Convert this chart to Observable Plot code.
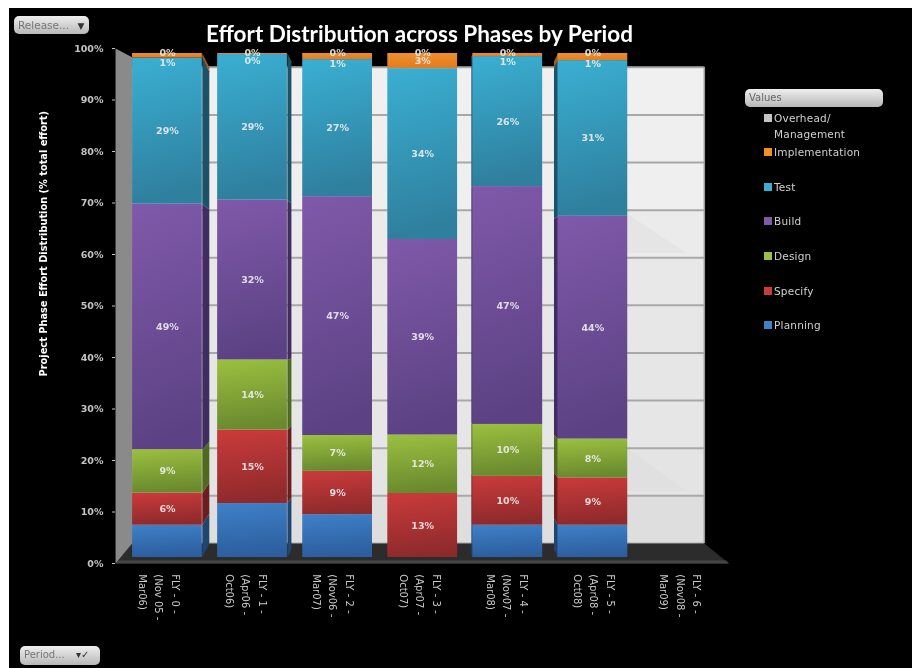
<!DOCTYPE html>
<html><head><meta charset="utf-8">
<script src="https://cdn.jsdelivr.net/npm/d3@7"></script>
<script src="https://cdn.jsdelivr.net/npm/@observablehq/plot@0.6"></script>
<style>
html,body{margin:0;padding:0;background:#fff;overflow:hidden}
#page{position:relative;width:912px;height:668px;filter:blur(.7px);font-family:"DejaVu Sans",sans-serif}
#black{position:absolute;left:9px;top:8px;right:0;bottom:0;background:#000}
#chart{position:absolute;left:0;top:0}
#chart svg{background:transparent;display:block}
#title{position:absolute;left:206px;top:25px;width:426px;height:18px;text-align:center;white-space:nowrap;color:#fff;font:700 22.5px/18px Lato,sans-serif}
.btn{position:absolute;box-sizing:border-box;border-radius:5px;background:linear-gradient(#eee,#b8b8b8);color:#777;font-size:10px;line-height:18px;padding-left:4px;white-space:nowrap}
#legend div.item{position:absolute;left:774px;color:#d0d0d0;font-size:10.5px;line-height:16px;white-space:pre-line;letter-spacing:.2px}
#legend span{position:absolute;left:-10px;top:4px;width:8px;height:8px}
</style></head><body>
<div id="page"><div id="black"></div><div id="chart"></div>
<div id="title">Effort Distribution across Phases by Period</div>
<div class="btn" style="left:14px;top:16px;width:75px;height:18px;font-size:10.5px">Release... <span style="color:#333;margin-left:5px;font-size:9px">▼</span></div>
<div class="btn" style="left:20px;top:646px;width:80px;height:19px">Period... <span style="color:#333;margin-left:8px">▾✓</span></div>
<div class="btn" style="left:745px;top:89px;width:138px;height:18px;color:#666">Values</div>
<div id="legend"></div></div>
<script>
const periods = ["FLY - 0 -\n(Nov 05 -\nMar06)","FLY - 1 -\n(Apr06 -\nOct06)","FLY - 2 -\n(Nov06 -\nMar07)","FLY - 3 -\n(Apr07 -\nOct07)","FLY - 4 -\n(Nov07 -\nMar08)","FLY - 5 -\n(Apr08 -\nOct08)","FLY - 6 -\n(Nov08 -\nMar09)"];
const phases = ["Planning","Specify","Design","Build","Test","Implementation","Overhead/\nManagement"];
const planning = [6.4,10.7,8.5,0,6.4,6.4];
const specify = [6.4,14.6,8.6,12.7,9.7,9.4];
const design = [8.6,13.9,7.1,11.6,10.3,7.7];
const build = [48.7,31.7,47.4,38.8,47.2,44.2];
const test = [29.0,28.9,27.2,33.9,25.8,30.9];
const implementation = [0.9,0.2,1.2,3.0,0.6,1.4];
const overhead = [0,0,0,0,0,0];
const series = [planning,specify,design,build,test,implementation,overhead];
const axisTicks = [0,10,20,30,40,50,60,70,80,90,100];
const gridTicks = [0,10,20,30,40,50,60,70,80,90,100];
const wallTones = ["#dedede","#e4e4e4","#e6e6e6","#e6e6e6","#e7e7e7","#e8e8e8","#ebebeb","#efefef","#efefef","#f0f0f0"];
const colorsTop = ["#3f80c8","#cb3b3b","#9bc040","#8059aa","#3aafd2","#f0902c","#bbbbbb"];
const colorsBottom = ["#2c5f9e","#8f2a2c","#6a8a2e","#5c4284","#2f7f9e","#e27c22","#999999"];
const sideColors = ["#1f4570","#6b1e20","#4f6a20","#3f2c60","#1c5268","#a85a14","#777777"];
const swatches = ["#3f80c8","#cb3b3b","#9bc040","#8059aa","#3aafd2","#f0902c","#c4c4c4"];
const legendTops = [317,283,248,213,179,144,110];

// three planes of the 3-D box, expressed in axis units
const front = v => 1.165 + v*0.9786;   // face of the bars
const back = v => 3.9 + v*0.9245;      // back wall
const depth = [0.082,0.047,0,0,-0.018,-0.047];
const halfBar = 0.41;

const rows = [], sides = [];
periods.slice(0,6).forEach((p,i)=>{
  let cum = 0;
  series.forEach((s,k)=>{
    const v = s[i], lo = cum, hi = cum+v; cum = hi;
    rows.push({i,k,v,y1:front(lo),y2:front(hi),mid:front((lo+hi)/2)});
    const d = depth[i];
    if (d!==0 && v>0){
      const t = Math.abs(d)/0.082, xe = i+(d>0?halfBar:-halfBar);
      const shift = y => y + t*((back(0)-front(0))*(1-y/100)+(back(100)-front(100))*(y/100));
      const id=i+"-"+k, yl=front(lo), yh=front(hi);
      [[xe,yl],[xe,yh],[xe+d,shift(yh)],[xe+d,shift(yl)]].forEach(([x,y])=>sides.push({id,k,x,y}));
    }
  });
});

const poly = (pts,fill) => Plot.line(pts,{x:"0",y:"1",fill,stroke:"none"});
const defs = () => {
  const d = d3.create("svg:defs");
  phases.forEach((_,k)=>{
    const g = d.append("linearGradient").attr("id","grad"+k).attr("x1",0).attr("y1",0).attr("x2",0.12).attr("y2",1);
    g.append("stop").attr("offset",0).attr("stop-color",colorsTop[k]);
    g.append("stop").attr("offset",1).attr("stop-color",colorsBottom[k]);
  });
  return d.node();
};
const labelStyle = {x:"i",y:"mid",text:d=>Math.round(d.v)+"%",fill:"#f0f0f0",fontSize:9.5,fontWeight:"bold",opacity:.88};
const marks = [
  defs,
  // back wall
  ...wallTones.map((c,j)=>poly([[-0.42,back(j*10)],[6.31,back(j*10)],[6.31,back(j*10+10)],[-0.42,back(j*10+10)]],c)),
  poly([[5.4,back(69.3)],[6.1,back(61)],[5.4,back(61)]],"#e5e5e5"),
  poly([[5.4,back(20)],[6.1,back(11)],[5.4,back(11)]],"#e0e0e0"),
  Plot.ruleY(gridTicks,{y:back,x1:-0.42,x2:6.31,stroke:"#a8a8a8",strokeWidth:2}),
  Plot.ruleX([6.31],{y1:back(0),y2:back(100),stroke:"#9a9a9a",strokeWidth:1.5}),
  // floor and left wall
  poly([[-0.61,0],[6.6,0],[6.31,back(0)],[-0.42,back(0)]],"#2c2c2c"),
  poly([[-0.61,0],[6.6,0],[6.56,0.6],[-0.58,0.6]],"#464646"),
  poly([[-0.61,0],[-0.61,100],[-0.415,98.3],[-0.415,back(0)]],"#8a8a8a"),
  // bars
  ...phases.map((_,k)=>Plot.line(sides.filter(d=>d.k===k),{x:"x",y:"y",z:"id",fill:sideColors[k],stroke:"none"})),
  ...phases.map((_,k)=>Plot.rect(rows.filter(d=>d.k===k&&d.v>0),{x1:d=>d.i-halfBar,x2:d=>d.i+halfBar,y1:"y1",y2:"y2",fill:`url(#grad${k})`})),
  // value labels
  Plot.text(rows.filter(d=>d.k>0&&d.k<5),labelStyle),
  Plot.text(rows.filter(d=>d.k===5&&d.v<2),{...labelStyle,dy:7}),
  Plot.text(rows.filter(d=>d.k===5&&d.v>=2),{...labelStyle,dy:0}),
  Plot.text(rows.filter(d=>d.k===6),{...labelStyle,dy:-1}),
  // axis
  Plot.axisY(axisTicks,{anchor:"left",tickFormat:d=>d+"%",tickSize:3,tickPadding:9,color:"#c4c4c4",fontSize:9.5,fontWeight:"bold"}),
  Plot.text(["Project Phase Effort Distribution (% total effort)"],{x:-1.45,y:()=>62.1,rotate:-90,fill:"#fff",fontSize:9.8,fontWeight:"bold"}),
  // period labels
  Plot.text(periods,{x:(d,i)=>-0.08+i*1.0217,y:()=>-2.1,text:d=>d,rotate:90,textAnchor:"start",lineAnchor:"middle",lineHeight:1.65,fill:"#c8c8c8",fontSize:10})
];
const chart = Plot.plot({
  width:912,height:668,marginLeft:115,marginRight:0,marginTop:0,marginBottom:0,
  style:{background:"transparent",fontFamily:"DejaVu Sans, sans-serif",overflow:"visible"},
  x:{type:"linear",domain:[-0.5,6.5],range:[124.4,720],axis:null},
  y:{domain:[0,100],range:[563,48],axis:null},
  marks
});
document.getElementById("chart").append(chart);
const lg = document.getElementById("legend");
phases.forEach((p,k)=>{
  const el = document.createElement("div"); el.className="item";
  el.style.top = legendTops[k]+"px"; el.textContent = p;
  const sw = document.createElement("span"); sw.style.background = swatches[k];
  el.prepend(sw); lg.append(el);
});
</script></body></html>
